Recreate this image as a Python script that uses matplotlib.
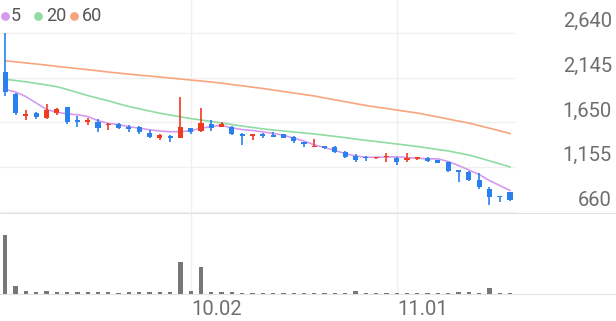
import matplotlib.pyplot as plt
import matplotlib.transforms as mtransforms
import numpy as np

plt.rcParams['font.family'] = ['Roboto', 'DejaVu Sans']

# daily candles, 2024-09-02 .. 2024-11-18
opens = [2205, 1965, 1725, 1752, 1696, 1758, 1818, 1678, 1659, 1655,
         1622, 1630, 1597, 1603, 1537, 1475, 1504, 1482, 1586, 1556,
         1633, 1597, 1603, 1526, 1504, 1523, 1512, 1519, 1486, 1431,
         1376, 1390, 1376, 1320, 1283, 1272, 1254, 1265, 1261, 1235,
         1243, 1261, 1235, 1216, 1125, 1106, 1014, 911, 840, 885]
highs = [2640, 1980, 1788, 1763, 1854, 1814, 1825, 1725, 1696, 1689,
         1641, 1645, 1622, 1614, 1567, 1523, 1512, 1935, 1593, 1807,
         1678, 1659, 1614, 1530, 1523, 1530, 1541, 1523, 1504, 1431,
         1467, 1393, 1390, 1335, 1298, 1283, 1272, 1309, 1272, 1309,
         1265, 1272, 1235, 1216, 1125, 1117, 1088, 940, 840, 885]
lows = [1943, 1733, 1678, 1685, 1685, 1733, 1633, 1603, 1622, 1541,
        1567, 1575, 1541, 1523, 1475, 1456, 1437, 1480, 1519, 1548,
        1556, 1597, 1515, 1401, 1456, 1475, 1493, 1475, 1426, 1382,
        1376, 1360, 1309, 1254, 1216, 1224, 1248, 1216, 1180, 1216,
        1235, 1216, 1199, 1106, 995, 1006, 914, 737, 774, 785]
closes = [1991, 1752, 1741, 1714, 1788, 1799, 1659, 1659, 1678, 1592,
          1633, 1586, 1575, 1548, 1486, 1512, 1482, 1603, 1548, 1641,
          1586, 1630, 1523, 1504, 1523, 1504, 1493, 1482, 1445, 1412,
          1393, 1365, 1320, 1272, 1235, 1254, 1261, 1283, 1216, 1254,
          1265, 1227, 1205, 1113, 1099, 1014, 933, 823, 823, 793]
volumes = [5900, 800, 300, 200, 300, 200, 200, 200, 200, 200,
           200, 150, 200, 200, 200, 200, 200, 3200, 300, 2700,
           250, 200, 200, 150, 100, 100, 100, 100, 100, 100,
           100, 100, 100, 100, 300, 100, 100, 100, 100, 100,
           100, 100, 100, 150, 200, 200, 100, 600, 150, 100]

ma5 = [2017, 1987, 1937, 1866, 1794, 1763, 1746, 1735, 1717, 1670,
       1641, 1626, 1604, 1587, 1570, 1556, 1548, 1548, 1559, 1587,
       1606, 1618, 1590, 1572, 1562, 1546, 1530, 1509, 1478, 1445,
       1403, 1373, 1340, 1307, 1279, 1266, 1265, 1268, 1271, 1263,
       1255, 1248, 1248, 1219, 1174, 1125, 1075, 1008, 953, 898]
ma20 = [2128, 2114, 2100, 2083, 2065, 2046, 2015, 1982, 1948, 1919,
        1890, 1857, 1827, 1802, 1777, 1753, 1733, 1713, 1694, 1678,
        1661, 1644, 1627, 1611, 1595, 1580, 1567, 1556, 1545, 1534,
        1523, 1510, 1496, 1483, 1467, 1453, 1440, 1426, 1412, 1399,
        1384, 1368, 1351, 1335, 1313, 1290, 1259, 1226, 1193, 1158]
ma60 = [2333, 2321, 2309, 2297, 2285, 2271, 2259, 2247, 2234, 2222,
        2208, 2197, 2185, 2174, 2164, 2153, 2142, 2131, 2120, 2109,
        2098, 2085, 2070, 2056, 2041, 2026, 2009, 1993, 1976, 1960,
        1943, 1922, 1901, 1880, 1859, 1838, 1821, 1805, 1788, 1771,
        1755, 1733, 1711, 1688, 1666, 1644, 1616, 1587, 1558, 1528]

y_ticks = [660, 1155, 1650, 2145, 2640]
date_ticks = {18: '10.02', 38: '11.01'}

RED = '#ee3b22'
BLUE = '#2a80ee'
GRID = '#f0f0f0'
W, H = 616, 321
step = 10.3          # px per candle
px = 1980 / 179      # won per px


def fy(p):
    return 1 - p / H


fig = plt.figure(figsize=(W / 100, H / 100), dpi=100)
ax = fig.add_axes([0, fy(213), 1, 213 / H])
vol = fig.add_axes([0, fy(294), 1, 81 / H])

x0 = -5.3 / step
for a in (ax, vol):
    a.set_xlim(x0, x0 + W / step)
    a.set_xticks([])
    a.set_yticks([])
    for s in a.spines.values():
        s.set_visible(False)
    a.patch.set_alpha(0)

ax.set_ylim(660 - px, 660 + 212 * px)
vol.set_ylim(0, volumes[0] * 81 / 59)

x = np.arange(len(closes))
o = np.array(opens)
c = np.array(closes)

# grid
ax.hlines(y_ticks, x0, 49.5, color=GRID, lw=1, zorder=0)
for k in date_ticks:
    ax.axvline(k, color=GRID, lw=1, zorder=0)
    vol.axvline(k, color=GRID, lw=1, zorder=0)
for side in ('top', 'bottom'):
    vol.spines[side].set_visible(True)
    vol.spines[side].set_color('#e2e2e2')

# moving averages
ax.plot(x, ma60, color='#f8a57e', lw=1.2, zorder=2)
ax.plot(x, ma20, color='#90dca2', lw=1.2, zorder=2)
ax.plot(x, ma5, color='#d49af0', lw=1.2, zorder=2)

# candles
colors = [RED if cc > oo else BLUE for oo, cc in zip(o, c)]
ax.vlines(x, lows, highs, colors=colors, lw=1.2, zorder=3)
body = np.where(np.abs(c - o) < 12, 12 * np.sign(c - o + 0.1), c - o)
ax.bar(x, body, bottom=o, width=0.5, color=colors, zorder=4)

# volume
vol.bar(x, volumes, width=0.42, color='#777777', zorder=3)

# price labels sit above their grid lines, right aligned
ytrans = mtransforms.blended_transform_factory(fig.transFigure, ax.transData)
for t in y_ticks:
    ax.text(612 / W, t + 6 * px, f'{t:,}', transform=ytrans,
            ha='right', va='baseline', fontsize=14.5, color='#6e6e6e')

xtrans = mtransforms.blended_transform_factory(vol.transData, fig.transFigure)
for k, lab in date_ticks.items():
    vol.text(k + 0.1, fy(309.5), lab, transform=xtrans,
             ha='left', va='center', fontsize=14.5, color='#6e6e6e')

# legend
leg = [('5', '#d49af0', 5, 11), ('20', '#90dca2', 37.5, 46), ('60', '#f8a57e', 74, 82)]
for lab, col, cx, tx in leg:
    ax.plot([cx / W], [fy(16)], 'o', ms=6.3, mew=0, color=col,
            transform=fig.transFigure, clip_on=False)
    fig.text(tx / W, fy(16), lab, color='#555555', fontsize=13, ha='left', va='center')

fig.savefig('out.png', dpi=100)
